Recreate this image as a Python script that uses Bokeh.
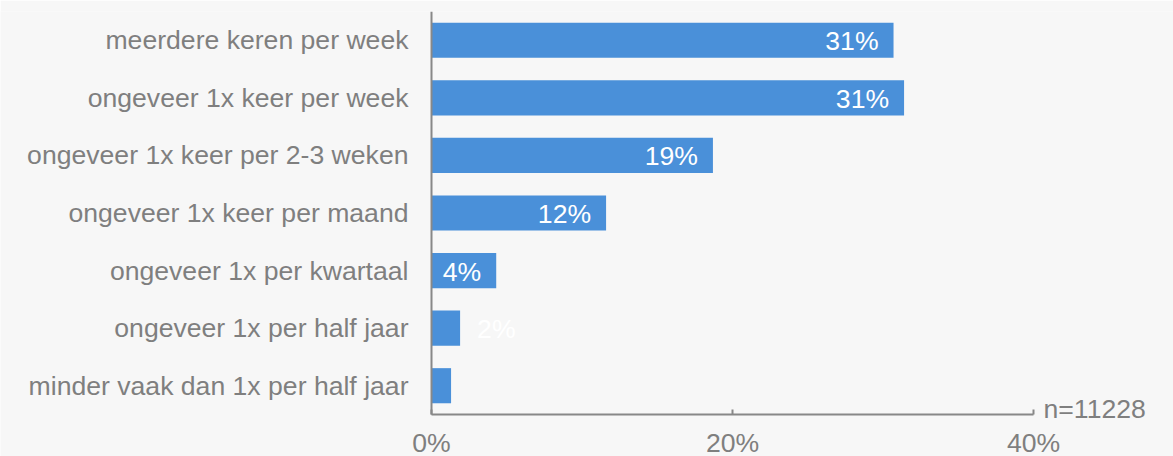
from bokeh.plotting import figure
from bokeh.models import ColumnDataSource, Range1d, FixedTicker, CustomJSTickFormatter
from bokeh.core.properties import value
from bokeh.embed import file_html
from bokeh.resources import INLINE

categories = [
    "meerdere keren per week",
    "ongeveer 1x keer per week",
    "ongeveer 1x keer per 2-3 weken",
    "ongeveer 1x keer per maand",
    "ongeveer 1x per kwartaal",
    "ongeveer 1x per half jaar",
    "minder vaak dan 1x per half jaar",
]
values = [30.7, 31.4, 18.7, 11.6, 4.3, 1.9, 1.3]
value_labels = ["31%", "31%", "19%", "12%", "4%", "2%", ""]
x_ticks = [0, 20, 40]
x_axis_max = 40
n_text = ["n=11228"]

FONT = "Liberation Sans"
FS = "26.6px"
GRAY = "#7f7f7f"
BAR = "#4a90d9"
BG = "#f7f7f7"

W, H = 1173, 456
LEFT, TOP = 431, 11
cat_area_px = 403           # height occupied by the category bands
below_px = H - TOP - cat_area_px
n = len(categories)
y_unit_px = cat_area_px / n
x_unit_px = 602 / x_axis_max

# category band centres, top category first
ypos = [n - i - 0.5 for i in range(n)]

p = figure(
    width=W, height=H,
    y_range=Range1d(-below_px / y_unit_px, n),
    x_range=Range1d(-LEFT / x_unit_px, (W - LEFT) / x_unit_px),
    output_backend="svg", toolbar_location=None,
    min_border_left=0, min_border_right=0,
    min_border_top=TOP, min_border_bottom=0,
    background_fill_color=BG, border_fill_color=BG,
    outline_line_color=None,
)

src = ColumnDataSource(dict(y=ypos, val=values))
p.hbar(y="y", right="val", left=0, height=0.61, source=src,
       fill_color=BAR, line_color=None)

inside = [i for i, v in enumerate(values) if v >= 3]
outside = [i for i, v in enumerate(values) if v < 3]
src_in = ColumnDataSource(dict(y=[ypos[i] for i in inside],
                               val=[values[i] for i in inside],
                               lab=[value_labels[i] for i in inside]))
src_out = ColumnDataSource(dict(y=[ypos[i] for i in outside],
                                val=[values[i] for i in outside],
                                lab=[value_labels[i] for i in outside]))
p.text(x="val", y="y", text="lab", source=src_in, text_align="right",
       text_baseline="middle", x_offset=-15, y_offset=1,
       text_font=value(FONT), text_font_size=FS, text_color="white")
p.text(x="val", y="y", text="lab", source=src_out, text_align="left",
       text_baseline="middle", x_offset=17, y_offset=1,
       text_font=value(FONT), text_font_size=FS, text_color="white")

# sample-size note next to the end of the x axis
p.text(x=[x_axis_max], y=[0], text=n_text, text_align="left",
       text_baseline="middle", x_offset=10, y_offset=-6,
       text_font=value(FONT), text_font_size=FS, text_color=GRAY)

p.xgrid.visible = False
p.ygrid.visible = False

xa = p.xaxis[0]
xa.fixed_location = 0
xa.ticker = FixedTicker(ticks=x_ticks)
xa.bounds = (0, x_axis_max)
xa.formatter = CustomJSTickFormatter(code="return tick + '%';")
xa.axis_line_color = "#888888"
xa.axis_line_width = 2
xa.major_tick_in = 5
xa.major_tick_out = 0
xa.major_tick_line_color = "#888888"
xa.major_tick_line_width = 2
xa.minor_tick_line_color = None
xa.major_label_text_font = FONT
xa.major_label_text_font_size = FS
xa.major_label_text_color = GRAY
xa.major_label_standoff = 13

ya = p.yaxis[0]
ya.fixed_location = 0
ya.ticker = FixedTicker(ticks=ypos)
ya.major_label_overrides = {y: c for y, c in zip(ypos, categories)}
ya.bounds = (0, n)
ya.axis_line_color = "#888888"
ya.axis_line_width = 2
ya.major_tick_line_color = None
ya.minor_tick_line_color = None
ya.major_tick_in = 0
ya.major_tick_out = 0
ya.major_label_text_font = FONT
ya.major_label_text_font_size = FS
ya.major_label_text_color = GRAY
ya.major_label_standoff = 23

open("out.html", "w").write(file_html(p, INLINE))
